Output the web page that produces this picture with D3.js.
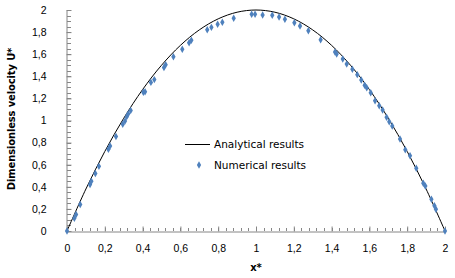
<!DOCTYPE html>
<html>
<head>
<meta charset="utf-8">
<script src="https://cdn.jsdelivr.net/npm/d3@7"></script>
<style>
  body { margin: 0; background: #fff; }
  svg { font-family: "DejaVu Sans", Verdana, sans-serif; }
</style>
</head>
<body>
<div id="okvir"></div>
<script>
// analytical curve
var anaX = [0, 0.1, 0.2, 0.3, 0.4, 0.5, 0.6, 0.7, 0.8, 0.9, 1, 1.1, 1.2, 1.3, 1.4, 1.5, 1.6, 1.7, 1.8, 1.9, 2];
var anaU = [0, 0.38, 0.72, 1.02, 1.28, 1.5, 1.68, 1.82, 1.92, 1.98, 2, 1.98, 1.92, 1.82, 1.68, 1.5, 1.28, 1.02, 0.72, 0.38, 0];

// numerical points
var numX = [0, 0.039, 0.048, 0.07, 0.122, 0.129, 0.15, 0.169, 0.219, 0.228, 0.259, 0.295, 0.307,
    0.316, 0.324, 0.337, 0.404, 0.413, 0.444, 0.462, 0.513, 0.522, 0.563, 0.61, 0.646, 0.658,
    0.742, 0.764, 0.797, 0.822, 0.882, 0.977, 0.995, 1.035, 1.086, 1.122, 1.153, 1.203, 1.233,
    1.277, 1.342, 1.418, 1.427, 1.459, 1.48, 1.51, 1.536, 1.557, 1.575, 1.586, 1.607, 1.63,
    1.652, 1.67, 1.691, 1.705, 1.721, 1.762, 1.79, 1.815, 1.848, 1.885, 1.896, 1.928, 1.944,
    1.952, 2];
var numU = [0, 0.115, 0.15, 0.24, 0.42, 0.45, 0.52, 0.585, 0.74, 0.77, 0.855, 0.966, 0.995,
    1.035, 1.06, 1.09, 1.255, 1.26, 1.345, 1.37, 1.48, 1.505, 1.577, 1.644, 1.704, 1.726,
    1.822, 1.843, 1.871, 1.889, 1.925, 1.961, 1.961, 1.955, 1.952, 1.937, 1.916, 1.885, 1.855,
    1.813, 1.731, 1.62, 1.602, 1.557, 1.511, 1.463, 1.415, 1.367, 1.319, 1.297, 1.252, 1.179,
    1.134, 1.095, 1.029, 0.989, 0.95, 0.833, 0.736, 0.681, 0.567, 0.432, 0.407, 0.287, 0.229,
    0.196, 0];

var xTicks = [0, 0.2, 0.4, 0.6, 0.8, 1, 1.2, 1.4, 1.6, 1.8, 2];
var yTicks = [0, 0.2, 0.4, 0.6, 0.8, 1, 1.2, 1.4, 1.6, 1.8, 2];

var width = 455, height = 278;
var margin = { top: 10, right: 10, bottom: 47, left: 67 };
var axisColor = "#868686";
var fmt = function (d) { return String(d).replace(".", ","); };

var svg = d3.select("#okvir").append("svg")
    .attr("width", width)
    .attr("height", height);

var x = d3.scaleLinear().domain([0, 2]).range([margin.left, 445]);
var y = d3.scaleLinear().domain([0, 2]).range([231, margin.top]);

// minor ticks
var xMinor = d3.range(0, 2.0001, 0.04);
var yMinor = d3.range(0, 2.0001, 0.05);

svg.append("g").selectAll("line").data(xMinor).enter().append("line")
    .attr("x1", d => Math.round(x(d)) + 0.5).attr("x2", d => Math.round(x(d)) + 0.5)
    .attr("y1", y(0)).attr("y2", y(0) - 3)
    .attr("stroke", axisColor);

svg.append("g").selectAll("line").data(yMinor).enter().append("line")
    .attr("x1", x(0)).attr("x2", x(0) + 4)
    .attr("y1", d => Math.round(y(d)) + 0.5).attr("y2", d => Math.round(y(d)) + 0.5)
    .attr("stroke", axisColor);

// x axis
var gx = svg.append("g")
    .attr("transform", "translate(0," + (y(0) + 0.5) + ")")
    .call(d3.axisBottom(x).tickValues(xTicks).tickFormat(fmt).tickSizeInner(-5).tickSizeOuter(0).tickPadding(13));
gx.select(".domain").attr("stroke", axisColor);
gx.selectAll(".tick line").attr("stroke", axisColor);
gx.selectAll("text").style("font-size", "10.5px").attr("fill", "#000");

// y axis
var gy = svg.append("g")
    .attr("transform", "translate(" + (x(0) - 0.5) + ",0)")
    .call(d3.axisLeft(y).tickValues(yTicks).tickFormat(fmt).tickSizeInner(-5).tickSizeOuter(0).tickPadding(20));
gy.select(".domain").attr("stroke", axisColor);
gy.selectAll(".tick line").attr("stroke", axisColor);
gy.selectAll("text").style("font-size", "10.5px").attr("fill", "#000");

// axis titles
svg.append("text")
    .attr("x", x(1)).attr("y", 271)
    .attr("text-anchor", "middle")
    .style("font-size", "10px").style("font-weight", "bold")
    .text("x*");

svg.append("text")
    .attr("transform", "rotate(-90)")
    .attr("x", -119).attr("y", 15)
    .attr("text-anchor", "middle")
    .style("font-size", "10px").style("font-weight", "bold")
    .style("letter-spacing", "-0.15px")
    .text("Dimensionless velocity U*");

// analytical line
var anaData = anaX.map((d, i) => [d, anaU[i]]);
svg.append("path")
    .datum(anaData)
    .attr("fill", "none")
    .attr("stroke", "#000")
    .attr("stroke-width", 1)
    .attr("d", d3.line().x(d => x(d[0])).y(d => y(d[1])).curve(d3.curveCatmullRom));

// numerical markers
var diamond = d3.symbol().type(d3.symbolDiamond).size(16);
var numData = numX.map((d, i) => [d, numU[i]]);
svg.append("g").selectAll("path").data(numData).enter().append("path")
    .attr("transform", d => "translate(" + x(d[0]) + "," + y(d[1]) + ")")
    .attr("d", diamond)
    .attr("fill", "#4F81BD");

// legend
svg.append("line")
    .attr("x1", 185).attr("x2", 210).attr("y1", 144.5).attr("y2", 144.5)
    .attr("stroke", "#000");
svg.append("text")
    .attr("x", 214).attr("y", 148)
    .style("font-size", "10.5px")
    .text("Analytical results");
svg.append("path")
    .attr("transform", "translate(199,165)")
    .attr("d", diamond)
    .attr("fill", "#4F81BD");
svg.append("text")
    .attr("x", 214).attr("y", 168.5)
    .style("font-size", "10.5px")
    .text("Numerical results");
</script>
</body>
</html>
